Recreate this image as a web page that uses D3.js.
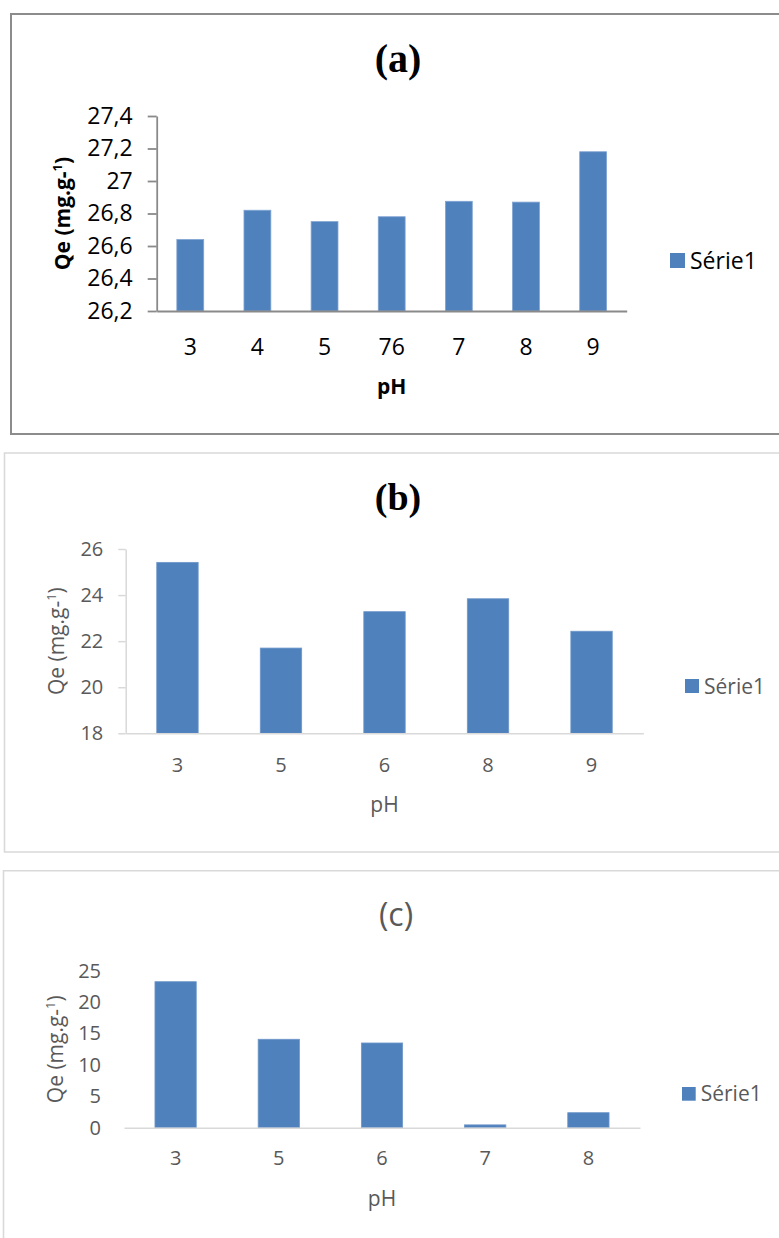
<!DOCTYPE html>
<meta charset="utf-8">
<html>
  <head>
    <title>Qe vs pH</title>
    <script src="https://d3js.org/d3.v7.min.js"></script>
    <style>
      body { margin: 0; background: #fff; }
      svg { display: block; }
    </style>
  </head>
  <body>
    <div id="chart"></div>
    <script type="text/javascript">
        /* data */
        var ph_a = ["3", "4", "5", "76", "7", "8", "9"];
        var qe_a = [26.64, 26.82, 26.75, 26.78, 26.875, 26.87, 27.18];
        var ticks_a = [26.2, 26.4, 26.6, 26.8, 27, 27.2, 27.4];

        var ph_b = ["3", "5", "6", "8", "9"];
        var qe_b = [25.42, 21.70, 23.28, 23.84, 22.43];
        var ticks_b = [18, 20, 22, 24, 26];

        var ph_c = ["3", "5", "6", "7", "8"];
        var qe_c = [23.25, 14.08, 13.49, 0.45, 2.39];
        var ticks_c = [0, 5, 10, 15, 20, 25];

        var series_name = "Série1";
        var bar_color = "#4F81BD";
        var font = "'Open Sans', 'Noto Sans', sans-serif";

        var svg = d3.select("#chart").append("svg")
            .attr("width", 779)
            .attr("height", 1238);

        /* comma as decimal mark */
        function fmt(d) { return String(d).replace(".", ","); }

        function draw_panel(p) {
            var g = svg.append("g");

            /* frame round the panel */
            g.append("path")
                .attr("d", p.frame)
                .attr("fill", "none")
                .attr("stroke", p.frame_color)
                .attr("stroke-width", p.frame_width);

            var x = d3.scaleBand()
                .domain(p.cats)
                .range([p.x0, p.x1])
                .paddingInner(0.6)
                .paddingOuter(0.3);
            var y = d3.scaleLinear()
                .domain([p.ticks[0], p.ticks[p.ticks.length - 1]])
                .range([p.y0, p.y1]);

            /* bars */
            g.append("g").selectAll("rect")
                .data(p.values)
                .enter().append("rect")
                .attr("x", function(d, i) { return x(p.cats[i]); })
                .attr("y", function(d) { return y(d); })
                .attr("width", x.bandwidth())
                .attr("height", function(d) { return y(p.ticks[0]) - y(d); })
                .attr("fill", bar_color)
                .attr("stroke", p.bar_edge)
                .attr("stroke-width", 0.8);

            /* y axis */
            var ya = g.append("g")
                .attr("transform", "translate(" + p.x0 + ",0)")
                .call(d3.axisLeft(y).tickValues(p.ticks).tickFormat(fmt)
                    .tickSize(p.tick_len).tickSizeOuter(0).tickPadding(p.tick_pad));
            ya.select(".domain").attr("stroke", p.axis_color).attr("stroke-width", p.axis_width)
                .style("display", p.show_y_line ? null : "none");
            ya.selectAll(".tick line").attr("stroke", p.axis_color).attr("stroke-width", p.axis_width);
            ya.selectAll(".tick text")
                .attr("fill", p.text_color)
                .style("font-family", font)
                .style("font-size", p.font_size + "px");

            /* x axis */
            var xa = g.append("g")
                .attr("transform", "translate(0," + p.y0 + ")")
                .call(d3.axisBottom(x).tickSize(0).tickSizeOuter(0));
            xa.select(".domain").attr("stroke", p.axis_color).attr("stroke-width", p.axis_width);
            xa.selectAll(".tick text")
                .attr("y", p.xlab_dy)
                .attr("dy", "0.36em")
                .attr("fill", p.text_color)
                .style("font-family", font)
                .style("font-size", p.font_size + "px");

            /* axis titles */
            g.append("text")
                .attr("x", (p.x0 + p.x1) / 2)
                .attr("y", p.xtitle_y)
                .attr("dy", "0.36em")
                .attr("text-anchor", "middle")
                .attr("fill", p.text_color)
                .style("font-family", font)
                .style("font-weight", p.title_weight)
                .style("font-size", p.axis_title_size + "px")
                .text("pH");

            var yt = g.append("text")
                .attr("transform", "translate(" + p.ytitle_x + "," + ((p.y0 + p.y1) / 2) + ") rotate(-90)")
                .attr("dy", "0.36em")
                .attr("text-anchor", "middle")
                .attr("fill", p.text_color)
                .style("font-family", font)
                .style("font-weight", p.title_weight)
                .style("font-size", p.axis_title_size + "px");
            yt.append("tspan").text("Qe (mg.g-");
            yt.append("tspan").attr("dy", -8).style("font-size", (p.axis_title_size * 0.62) + "px").text("1");
            yt.append("tspan").attr("dy", 8).text(")");

            /* panel title */
            g.append("text")
                .attr("x", p.title_x)
                .attr("y", p.title_y)
                .attr("text-anchor", "middle")
                .attr("fill", p.title_color)
                .style("font-family", p.title_font)
                .style("font-weight", p.title_font_weight)
                .style("font-size", p.title_size + "px")
                .text(p.title);

            /* legend */
            g.append("rect")
                .attr("x", p.leg_x)
                .attr("y", p.leg_y)
                .attr("width", p.leg_size)
                .attr("height", p.leg_size)
                .attr("fill", bar_color);
            g.append("text")
                .attr("x", p.leg_x + p.leg_size + 5)
                .attr("y", p.leg_y + p.leg_size / 2)
                .attr("dy", "0.36em")
                .attr("fill", p.text_color)
                .style("font-family", font)
                .style("font-size", p.leg_font + "px")
                .text(series_name);
        }

        draw_panel({
            cats: ph_a, values: qe_a, ticks: ticks_a,
            frame: "M779,14 L11,14 L11,434 L779,434", frame_color: "#8c8c8c", frame_width: 2,
            x0: 156.7, x1: 626.7, y0: 311, y1: 116,
            axis_color: "#8a8a8a", axis_width: 1.8, show_y_line: true,
            tick_len: 9, tick_pad: 15, font_size: 23, text_color: "#000",
            xlab_dy: 35.7, xtitle_y: 386.7, ytitle_x: 62, axis_title_size: 21, title_weight: "bold",
            bar_edge: "#7fa3d1",
            title: "(a)", title_x: 398, title_y: 72, title_size: 40,
            title_font: "'Liberation Serif', 'Times New Roman', serif", title_font_weight: "bold", title_color: "#000",
            leg_x: 670, leg_y: 253, leg_size: 15, leg_font: 23
        });

        draw_panel({
            cats: ph_b, values: qe_b, ticks: ticks_b,
            frame: "M779,453 L4.5,453 L4.5,852 L779,852", frame_color: "#d9d9d9", frame_width: 1.6,
            x0: 125.7, x1: 643.3, y0: 733.3, y1: 549,
            axis_color: "#d9d9d9", axis_width: 1.5, show_y_line: true,
            tick_len: 7.4, tick_pad: 15, font_size: 20, text_color: "#595959",
            xlab_dy: 31.7, xtitle_y: 804.3, ytitle_x: 56.7, axis_title_size: 21, title_weight: "normal",
            bar_edge: "#6f97c9",
            title: "(b)", title_x: 398, title_y: 510, title_size: 38,
            title_font: "'Liberation Serif', 'Times New Roman', serif", title_font_weight: "bold", title_color: "#000",
            leg_x: 685, leg_y: 679, leg_size: 14, leg_font: 21
        });

        draw_panel({
            cats: ph_c, values: qe_c, ticks: ticks_c,
            frame: "M779,870.7 L3.5,870.7 L3.5,1238", frame_color: "#d9d9d9", frame_width: 1.6,
            x0: 124, x1: 640, y0: 1127.7, y1: 970.7,
            axis_color: "#d9d9d9", axis_width: 1.5, show_y_line: false,
            tick_len: 0, tick_pad: 23, font_size: 20, text_color: "#595959",
            xlab_dy: 30.3, xtitle_y: 1198, ytitle_x: 55, axis_title_size: 21, title_weight: "normal",
            bar_edge: "#6f97c9",
            title: "(c)", title_x: 396, title_y: 926, title_size: 32,
            title_font: font, title_font_weight: "normal", title_color: "#595959",
            leg_x: 682, leg_y: 1087, leg_size: 13.7, leg_font: 21
        });
    </script>
  </body>
</html>
